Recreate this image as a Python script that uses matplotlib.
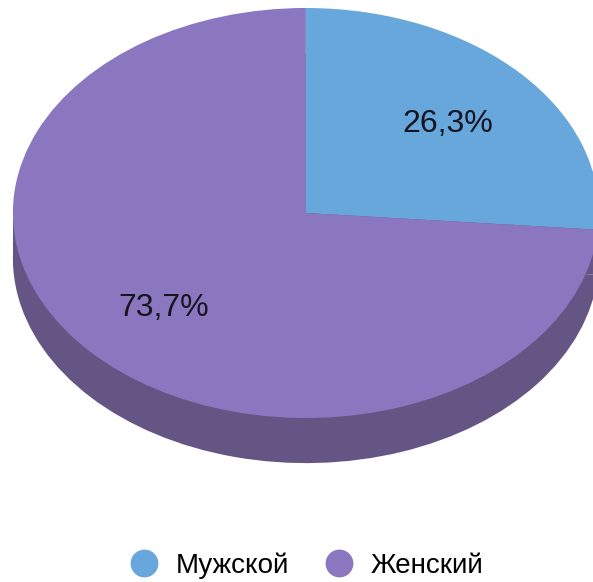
import matplotlib.pyplot as plt
from matplotlib.lines import Line2D
from matplotlib.patches import Rectangle

# данные
labels = ['Мужской', 'Женский']
values = [26.3, 73.7]
colors = ['#68a7db', '#8b77bf']
side_color = '#655585'

plt.rcParams['font.family'] = ['Liberation Sans', 'DejaVu Sans']

fig = plt.figure(figsize=(5.93, 5.82), dpi=100)
ax = fig.add_axes([0, 0, 1, 1])

depth = 0.22

# боковая стенка (тень снизу)
ax.pie(values, colors=[side_color] * len(values), startangle=90, counterclock=False,
       center=(0, -depth), radius=1, frame=True)
ax.add_patch(Rectangle((-1, -depth), 2, depth, facecolor=side_color, edgecolor='none'))

# верхняя грань
wedges, texts, autotexts = ax.pie(
    values, colors=colors, startangle=90, counterclock=False, radius=1,
    autopct=lambda p: f'{p:.1f}%'.replace('.', ','), pctdistance=0.66,
    textprops={'fontsize': 23, 'color': '#15151f'}, frame=True)
for t in autotexts:
    t.set_y(t.get_position()[1] - 0.015)

# эллипс за счет разных масштабов по осям
ax.set_aspect('auto')
ax.set_xlim(-1.044, 0.980)
ax.set_ylim(-1.800, 1.039)
ax.axis('off')

handles = [Line2D([], [], marker='o', linestyle='none', markersize=19,
                  markerfacecolor=c, markeredgecolor=c) for c in colors]
fig.legend(handles, labels, loc='center', bbox_to_anchor=(0.517, 0.028), ncol=2,
           frameon=False, fontsize=20, handlelength=1.0, handletextpad=0.65,
           columnspacing=1.3, borderpad=0)

plt.savefig('out.png', dpi=100, facecolor='white')
